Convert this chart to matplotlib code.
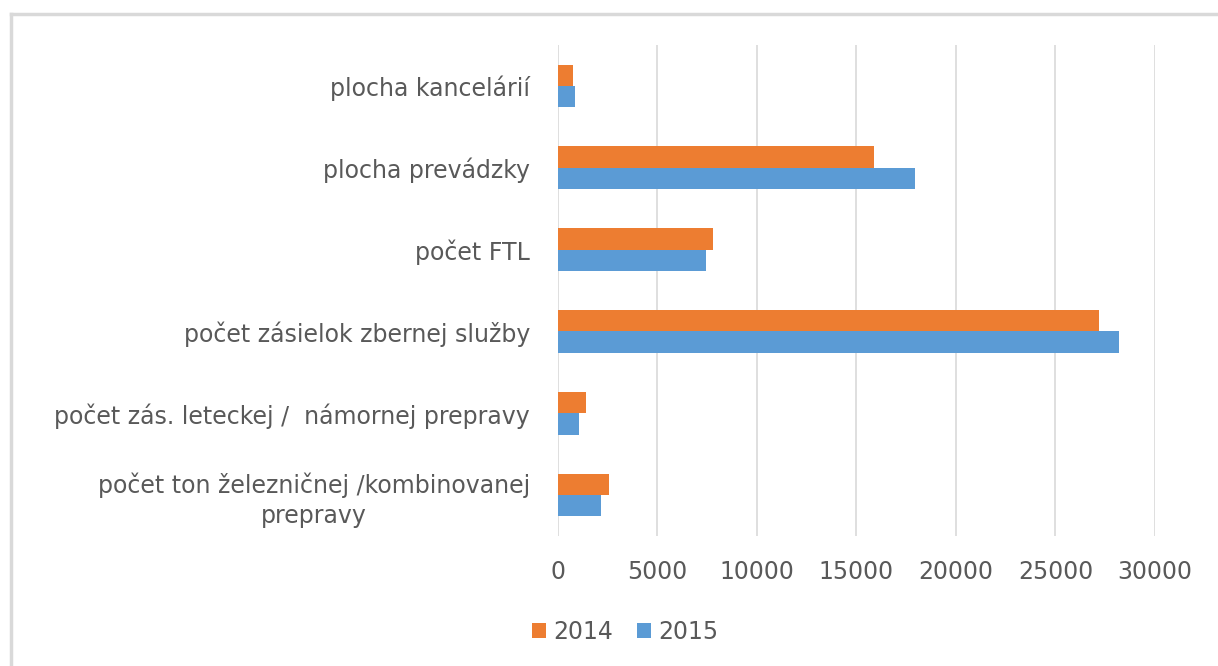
import numpy as np
from matplotlib import pyplot as plt
from matplotlib.lines import Line2D

categories = ['plocha kancelárií',
              'plocha prevádzky',
              'počet FTL',
              'počet zásielok zbernej služby',
              'počet zás. leteckej /  námornej prepravy',
              'počet ton železničnej /kombinovanej\nprepravy']
values_2014 = [780, 15900, 7790, 27170, 1420, 2580]
values_2015 = [850, 17960, 7440, 28170, 1090, 2180]
ticks = [0, 5000, 10000, 15000, 20000, 25000, 30000]

orange = '#ED7D31'
blue = '#5B9BD5'
text_col = '#595959'
plt.rcParams['font.family'] = ['DejaVu Sans']

fig = plt.figure(figsize=(12.18, 6.66), dpi=100)
ax = fig.add_axes([0.4579, 0.1952, 0.4904, 0.7372])

y = np.arange(len(categories))
h = 0.26
ax.barh(y - h / 2, values_2014, height=h, color=orange, label='2014', zorder=3)
ax.barh(y + h / 2, values_2015, height=h, color=blue, label='2015', zorder=3)

ax.set_ylim(len(categories) - 0.5, -0.5)
ax.set_xlim(0, 30000)
ax.set_xticks(ticks)
ax.set_xticklabels([str(t) for t in ticks])
ax.set_yticks(y)
ax.set_yticklabels(categories, multialignment='center', linespacing=1.3)
ax.tick_params(axis='both', length=0, labelsize=17, colors=text_col)
ax.tick_params(axis='x', pad=17)
ax.tick_params(axis='y', pad=20)
ax.grid(axis='x', color='#D9D9D9', linewidth=1.2, zorder=0)
for s in ax.spines.values():
    s.set_visible(False)

leg = fig.legend(loc='center', bbox_to_anchor=(0.513, 0.051), ncol=2,
                 frameon=False, fontsize=17, handlelength=0.6,
                 handleheight=0.6, handletextpad=0.3, columnspacing=1.0)
for t in leg.get_texts():
    t.set_color(text_col)

# outer border (top and left visible)
fig.add_artist(Line2D([11 / 1218, 11 / 1218], [0, 1 - 14 / 666],
                      transform=fig.transFigure, color='#D9D9D9', linewidth=2.5))
fig.add_artist(Line2D([11 / 1218, 1], [1 - 14 / 666, 1 - 14 / 666],
                      transform=fig.transFigure, color='#D9D9D9', linewidth=2.5))

fig.savefig('out.png', dpi=100)
